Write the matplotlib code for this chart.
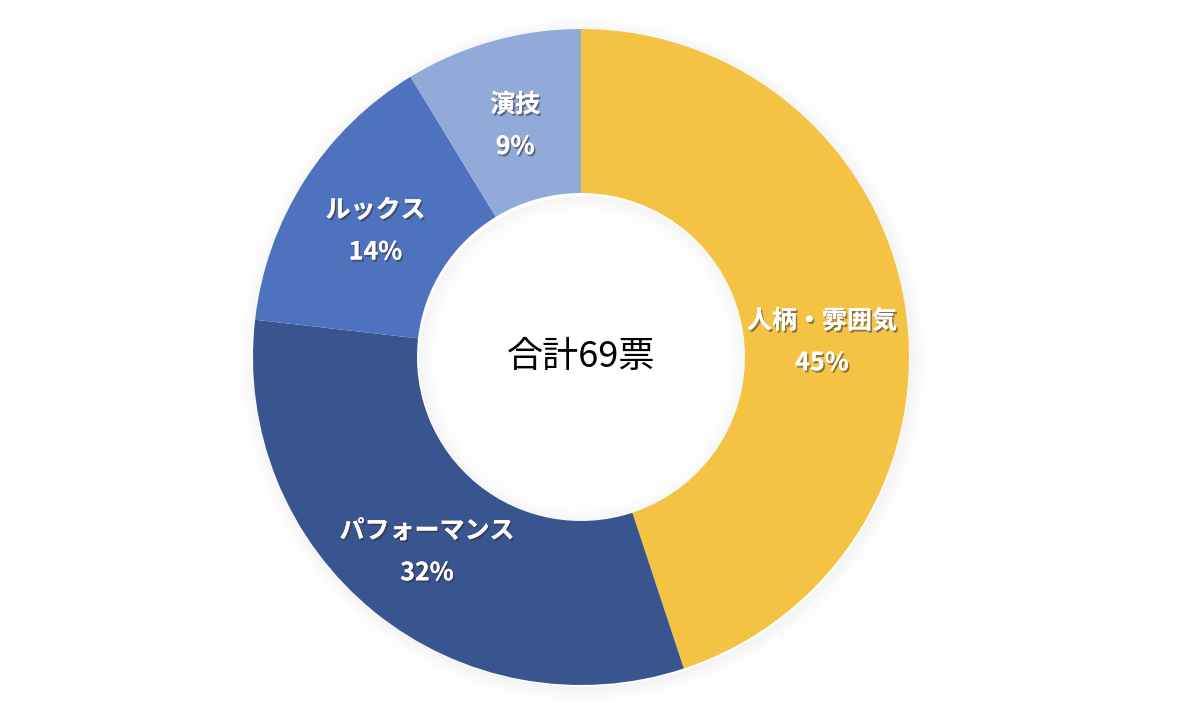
import matplotlib
matplotlib.use("Agg")
import matplotlib.pyplot as plt
import matplotlib.patheffects as pe
from matplotlib.patches import Wedge
import numpy as np

plt.rcParams['font.family'] = ['Noto Sans CJK JP', 'DejaVu Sans']

categories = ['人柄・雰囲気', 'パフォーマンス', 'ルックス', '演技']
votes = [31, 22, 10, 6]
pct_labels = ['45%', '32%', '14%', '9%']
colors = ['#F4C344', '#38558F', '#4E72BE', '#91AAD9']
center_text = '合計69票'

W, H = 1200, 714
fig = plt.figure(figsize=(12, 7.14), dpi=100)
ax = fig.add_axes([0, 0, 1, 1])

cx, cy = 581, 357
R = 328
width = 164

# soft shadow around the ring
for i in range(14):
    w = Wedge((cx + 2, cy - 3), R + i * 1.6, 0, 360, width=1.6,
              facecolor='black', alpha=0.045 * (1 - i / 14) ** 1.5, lw=0)
    ax.add_patch(w)

wedges, _ = ax.pie(votes, colors=colors, startangle=90, counterclock=False,
                   center=(cx, cy), radius=R,
                   wedgeprops=dict(width=width, linewidth=0))

# inner hole with soft shadow
ax.add_patch(Wedge((cx, cy), R - width - 0.5, 0, 360, facecolor='white', lw=0, zorder=0.5))
for i in range(14):
    rr = R - width - i * 1.6
    w = Wedge((cx + 2, cy - 3), rr, 0, 360, width=1.6,
              facecolor='black', alpha=0.04 * (1 - i / 14) ** 1.5, lw=0, zorder=0.6)
    ax.add_patch(w)

shadow = [pe.withSimplePatchShadow(offset=(1.2, -1.5), shadow_rgbFace='#333333', alpha=0.55),
          pe.Normal()]

label_r = R - width / 2 - 2
y_adjust = [-24, -6, -6, -4]
for wd, cat, pct, dy in zip(wedges, categories, pct_labels, y_adjust):
    ang = np.deg2rad((wd.theta1 + wd.theta2) / 2)
    x = cx + label_r * np.cos(ang)
    y = cy + label_r * np.sin(ang) + dy
    ax.text(x, y + 21, cat, ha='center', va='center', color='white',
            fontsize=18, fontweight='bold', path_effects=shadow)
    ax.text(x, y - 21, pct, ha='center', va='center', color='white',
            fontsize=18, fontweight='bold', path_effects=shadow)

ax.text(cx, cy, center_text, ha='center', va='center', color='black', fontsize=26)

ax.set_xlim(0, W)
ax.set_ylim(0, H)
ax.set_aspect('equal')
ax.axis('off')

fig.savefig('out.png', dpi=100, facecolor='white')
